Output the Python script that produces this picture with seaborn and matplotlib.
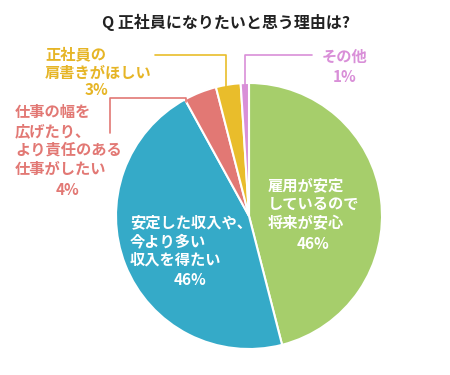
import matplotlib
matplotlib.use("Agg")
import matplotlib.pyplot as plt
import seaborn as sns
from matplotlib.lines import Line2D

sns.set_theme(style="white")
plt.rcParams['font.family'] = ['Noto Sans CJK JP', 'DejaVu Sans']

# data
labels = ["雇用が安定\nしているので\n将来が安心", "安定した収入や、\n今より多い\n収入を得たい",
          "仕事の幅を\n広げたり、\nより責任のある\n仕事がしたい", "正社員の\n肩書きがほしい", "その他"]
shares = [46, 46, 4, 3, 1]
colors = ["#a6ce6b", "#35aac8", "#e27874", "#e9bd2b", "#d98fd8"]
title = "Q 正社員になりたいと思う理由は?"

W, H = 450, 375
fig = plt.figure(figsize=(W / 100, H / 100), dpi=100)
fig.patch.set_facecolor("white")

def px(x, y):
    return x / W, 1 - y / H

cx, cy, r = 249, 216, 133
ax = fig.add_axes([(cx - r) / W, (H - cy - r) / H, 2 * r / W, 2 * r / H])
ax.pie(shares, colors=colors, startangle=90, counterclock=False,
       wedgeprops=dict(edgecolor="white", linewidth=1.5))
ax.set_xlim(-1, 1)
ax.set_ylim(-1, 1)
ax.set_aspect("auto")
ax.axis("off")

fs = 11
fig.text(*px(226, 22), title, ha="center", va="center", fontsize=11.5, fontweight="bold", color="#222222")

def label(x, y, text, color, pct, pct_x, pct_y, ha="left"):
    fig.text(*px(x, y), text, ha=ha, va="top", fontsize=fs, fontweight="bold",
             color=color, linespacing=1.23)
    fig.text(*px(pct_x, pct_y), pct, ha="center", va="center", fontsize=fs,
             fontweight="bold", color=color)

# inside labels
label(268, 177, labels[0], "white", f"{shares[0]}%", 313, 244)
label(130, 214, labels[1], "white", f"{shares[1]}%", 190, 280)
# outside labels
label(15, 104, labels[2], colors[2], f"{shares[2]}%", 68, 190)
label(45, 46, labels[3], "#e6b526", f"{shares[3]}%", 97, 90)
fig.text(*px(345, 57), labels[4], ha="center", va="center", fontsize=fs,
         fontweight="bold", color="#d98fd8")
fig.text(*px(345, 77), f"{shares[4]}%", ha="center", va="center", fontsize=fs,
         fontweight="bold", color="#d98fd8")

def leader(points, color):
    xs = [p[0] / W for p in points]
    ys = [1 - p[1] / H for p in points]
    fig.add_artist(Line2D(xs, ys, color=color, linewidth=1.2, transform=fig.transFigure))

leader([(155, 55), (226, 55), (226, 88)], "#e9bd2b")
leader([(110, 133), (110, 98), (186, 98), (186, 102)], "#e27874")
leader([(312, 55), (245, 55), (245, 85)], "#d98fd8")

fig.savefig("out.png", dpi=100)
